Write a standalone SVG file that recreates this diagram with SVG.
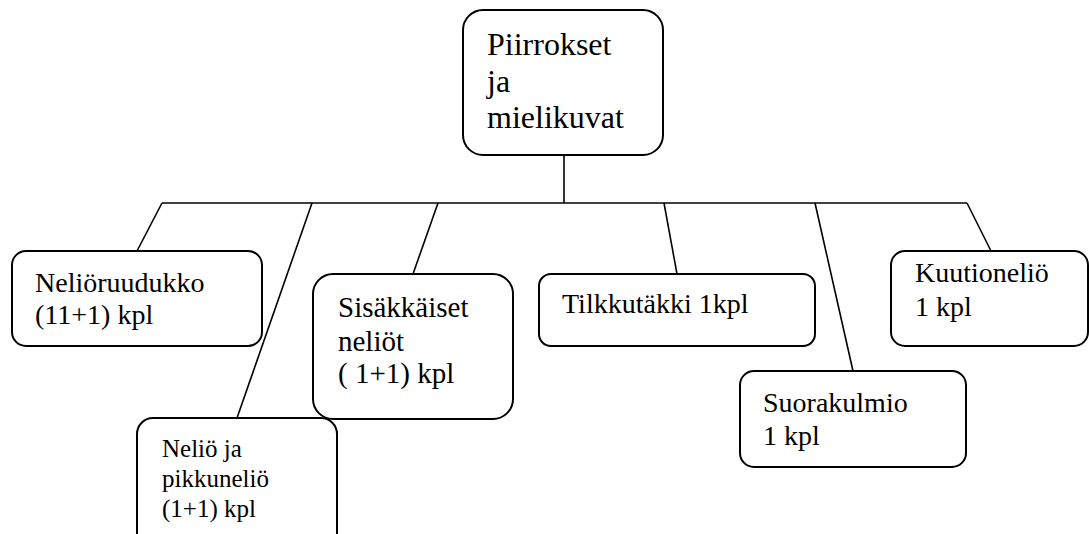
<svg xmlns="http://www.w3.org/2000/svg" width="1089" height="534" viewBox="0 0 1089 534">
<style>
.box{fill:#fff;stroke:#000;stroke-width:2}
.t{font-family:'Liberation Serif','Times New Roman',serif;fill:#000}
.c{stroke:#000;stroke-width:1.6;fill:none}
</style>
<rect width="1089" height="534" fill="#fff"/>
<g id="connectors">
<line class="c" x1="564" y1="155" x2="564" y2="203"/>
<line class="c" x1="162" y1="203" x2="967" y2="203"/>
<line class="c" x1="162" y1="203" x2="137" y2="251"/>
<line class="c" x1="312" y1="203" x2="237" y2="418"/>
<line class="c" x1="438" y1="203" x2="413" y2="274"/>
<line class="c" x1="664" y1="203" x2="677" y2="274"/>
<line class="c" x1="815" y1="203" x2="853" y2="371"/>
<line class="c" x1="967" y1="203" x2="991" y2="251"/>
</g>
<g id="root">
<rect class="box" x="463" y="10" width="200" height="145" rx="20"/>
<text class="t" font-size="32" x="487" y="55">Piirrokset</text>
<text class="t" font-size="32" x="487" y="92">ja</text>
<text class="t" font-size="32" x="487" y="128">mielikuvat</text>
</g>
<g id="n1">
<rect class="box" x="12" y="251" width="250" height="95" rx="14"/>
<text class="t" font-size="28" x="35" y="292">Neliöruudukko</text>
<text class="t" font-size="28" x="35" y="324">(11+1) kpl</text>
</g>
<g id="n2">
<rect class="box" x="137" y="418" width="200" height="140" rx="16"/>
<text class="t" font-size="25" x="162" y="457">Neliö ja</text>
<text class="t" font-size="25" x="162" y="487">pikkuneliö</text>
<text class="t" font-size="25" x="162" y="517">(1+1) kpl</text>
</g>
<g id="n3">
<rect class="box" x="313" y="274" width="200" height="145" rx="20"/>
<text class="t" font-size="29" x="338" y="317">Sisäkkäiset</text>
<text class="t" font-size="29" x="338" y="351">neliöt</text>
<text class="t" font-size="29" x="338" y="383">( 1+1) kpl</text>
</g>
<g id="n4">
<rect class="box" x="539" y="274" width="276" height="72" rx="12"/>
<text class="t" font-size="28" x="562" y="313">Tilkkutäkki 1kpl</text>
</g>
<g id="n5">
<rect class="box" x="740" y="371" width="226" height="96" rx="14"/>
<text class="t" font-size="28" x="763" y="412">Suorakulmio</text>
<text class="t" font-size="28" x="763" y="445">1 kpl</text>
</g>
<g id="n6">
<rect class="box" x="891" y="251" width="197" height="95" rx="14"/>
<text class="t" font-size="28" x="915" y="282">Kuutioneliö</text>
<text class="t" font-size="28" x="915" y="316">1 kpl</text>
</g>
</svg>
